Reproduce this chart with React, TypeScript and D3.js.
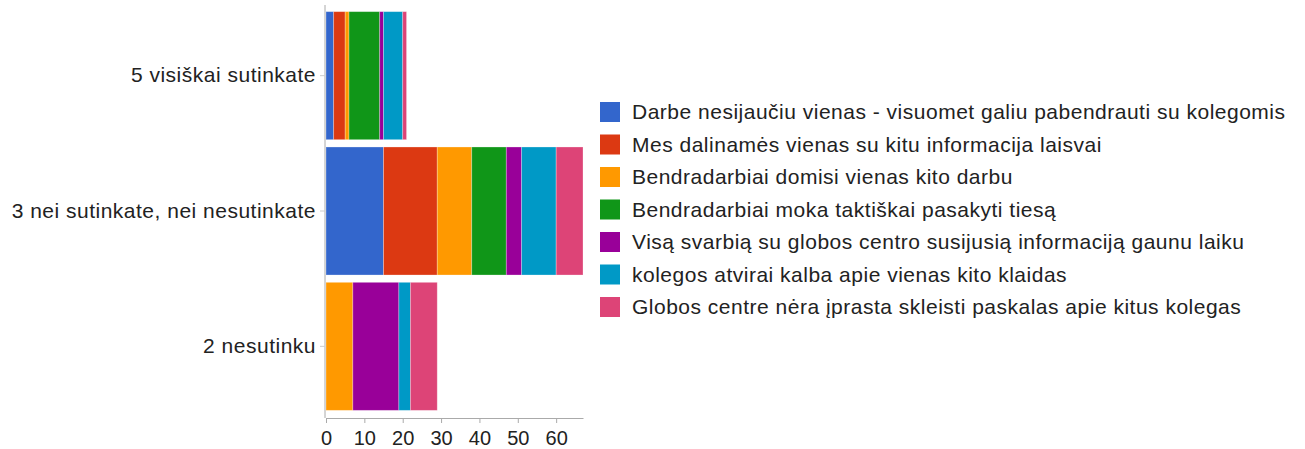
import React, { useEffect, useRef } from 'react'
import * as d3 from 'd3'

// categories (rows, top to bottom)
const categories = ['5 visiškai sutinkate', '3 nei sutinkate, nei nesutinkate', '2 nesutinku']

// series names (legend order)
const seriesNames = [
  'Darbe nesijaučiu vienas - visuomet galiu pabendrauti su kolegomis',
  'Mes dalinamės vienas su kitu informacija laisvai',
  'Bendradarbiai domisi vienas kito darbu',
  'Bendradarbiai moka taktiškai pasakyti tiesą',
  'Visą svarbią su globos centro susijusią informaciją gaunu laiku',
  'kolegos atvirai kalba apie vienas kito klaidas',
  'Globos centre nėra įprasta skleisti paskalas apie kitus kolegas',
]

// values per series, one per category
const darbe = [2, 15, 0]
const dalinames = [3, 14, 0]
const domisi = [1, 9, 7]
const moka = [8, 9, 0]
const visa = [1, 4, 12]
const kolegos = [5, 9, 3]
const globos = [1, 7, 7]

const seriesValues = [darbe, dalinames, domisi, moka, visa, kolegos, globos]

const colors = ['#3366cc', '#dc3912', '#ff9900', '#109618', '#990099', '#0099c6', '#dd4477']

const xTicks = [0, 10, 20, 30, 40, 50, 60]

const W = 1305
const H = 449

const App = () => {
  const svgRef = useRef<SVGSVGElement>(null)

  useEffect(() => {
    const svg = d3.select(svgRef.current)
    svg.selectAll('*').remove()

    const font = '"Liberation Sans", Arial, sans-serif'
    const fs = 21
    const ls = '0.5px'

    // build rows for stacking
    const rows = categories.map((c, i) => {
      const r: any = { cat: c }
      seriesNames.forEach((s, j) => { r[s] = seriesValues[j][i] })
      return r
    })
    const stacked = d3.stack().keys(seriesNames)(rows)
    const maxTotal = d3.max(rows, (r: any) => d3.sum(seriesNames, s => r[s])) as number

    const x = d3.scaleLinear().domain([0, maxTotal]).range([326, 583])
    const y = d3.scaleBand().domain(categories).range([8, 414]).paddingInner(0.054).paddingOuter(0.027)

    // bars
    svg.append('g')
      .selectAll('g')
      .data(stacked)
      .join('g')
      .attr('fill', (d, i) => colors[i])
      .selectAll('rect')
      .data(d => d.filter(p => p[1] - p[0] > 0))
      .join('rect')
      .attr('x', d => x(d[0]))
      .attr('width', d => x(d[1]) - x(d[0]))
      .attr('y', (d: any) => y(d.data.cat) as number)
      .attr('height', y.bandwidth())
      .attr('stroke', '#fff')
      .attr('stroke-opacity', 0.35)
      .attr('stroke-width', 0.8)

    // x axis
    const xAxis = svg.append('g')
      .attr('transform', 'translate(0,418)')
      .call(d3.axisBottom(x).tickValues(xTicks).tickSize(5).tickSizeOuter(0).tickPadding(8))
    xAxis.select('.domain').attr('stroke', '#aaa')
    xAxis.selectAll('.tick line').attr('stroke', '#aaa')
    xAxis.selectAll('text').attr('font-family', font).attr('font-size', fs - 1).attr('fill', '#222')

    // y axis
    const yAxis = svg.append('g')
      .attr('transform', 'translate(325,0)')
      .call(d3.axisLeft(y).tickSize(5).tickSizeOuter(0).tickPadding(4))
    yAxis.select('.domain').attr('stroke', '#aaa').attr('d', 'M0,5V418')
    yAxis.selectAll('.tick line').attr('stroke', '#ccc')
    yAxis.selectAll('text').attr('font-family', font).attr('font-size', fs).attr('fill', '#222')
      .style('letter-spacing', ls)

    // legend
    const legend = svg.append('g')
    const ly = d3.scalePoint().domain(seriesNames).range([112, 307])
    seriesNames.forEach((s, i) => {
      const g = legend.append('g').attr('transform', `translate(600,${ly(s)})`)
      g.append('rect').attr('x', 0).attr('y', -10).attr('width', 20).attr('height', 20).attr('fill', colors[i])
      g.append('text')
        .attr('x', 32)
        .attr('y', 0)
        .attr('dy', '0.35em')
        .attr('font-family', font)
        .attr('font-size', fs)
        .attr('fill', '#222')
        .style('letter-spacing', ls)
        .text(s)
    })
  }, [])

  return (
    <div style={{ position: 'absolute', left: 0, top: 0 }}>
      <svg ref={svgRef} width={W} height={H} viewBox={`0 0 ${W} ${H}`} style={{ display: 'block', background: '#fff' }} />
    </div>
  )
}

export default App
